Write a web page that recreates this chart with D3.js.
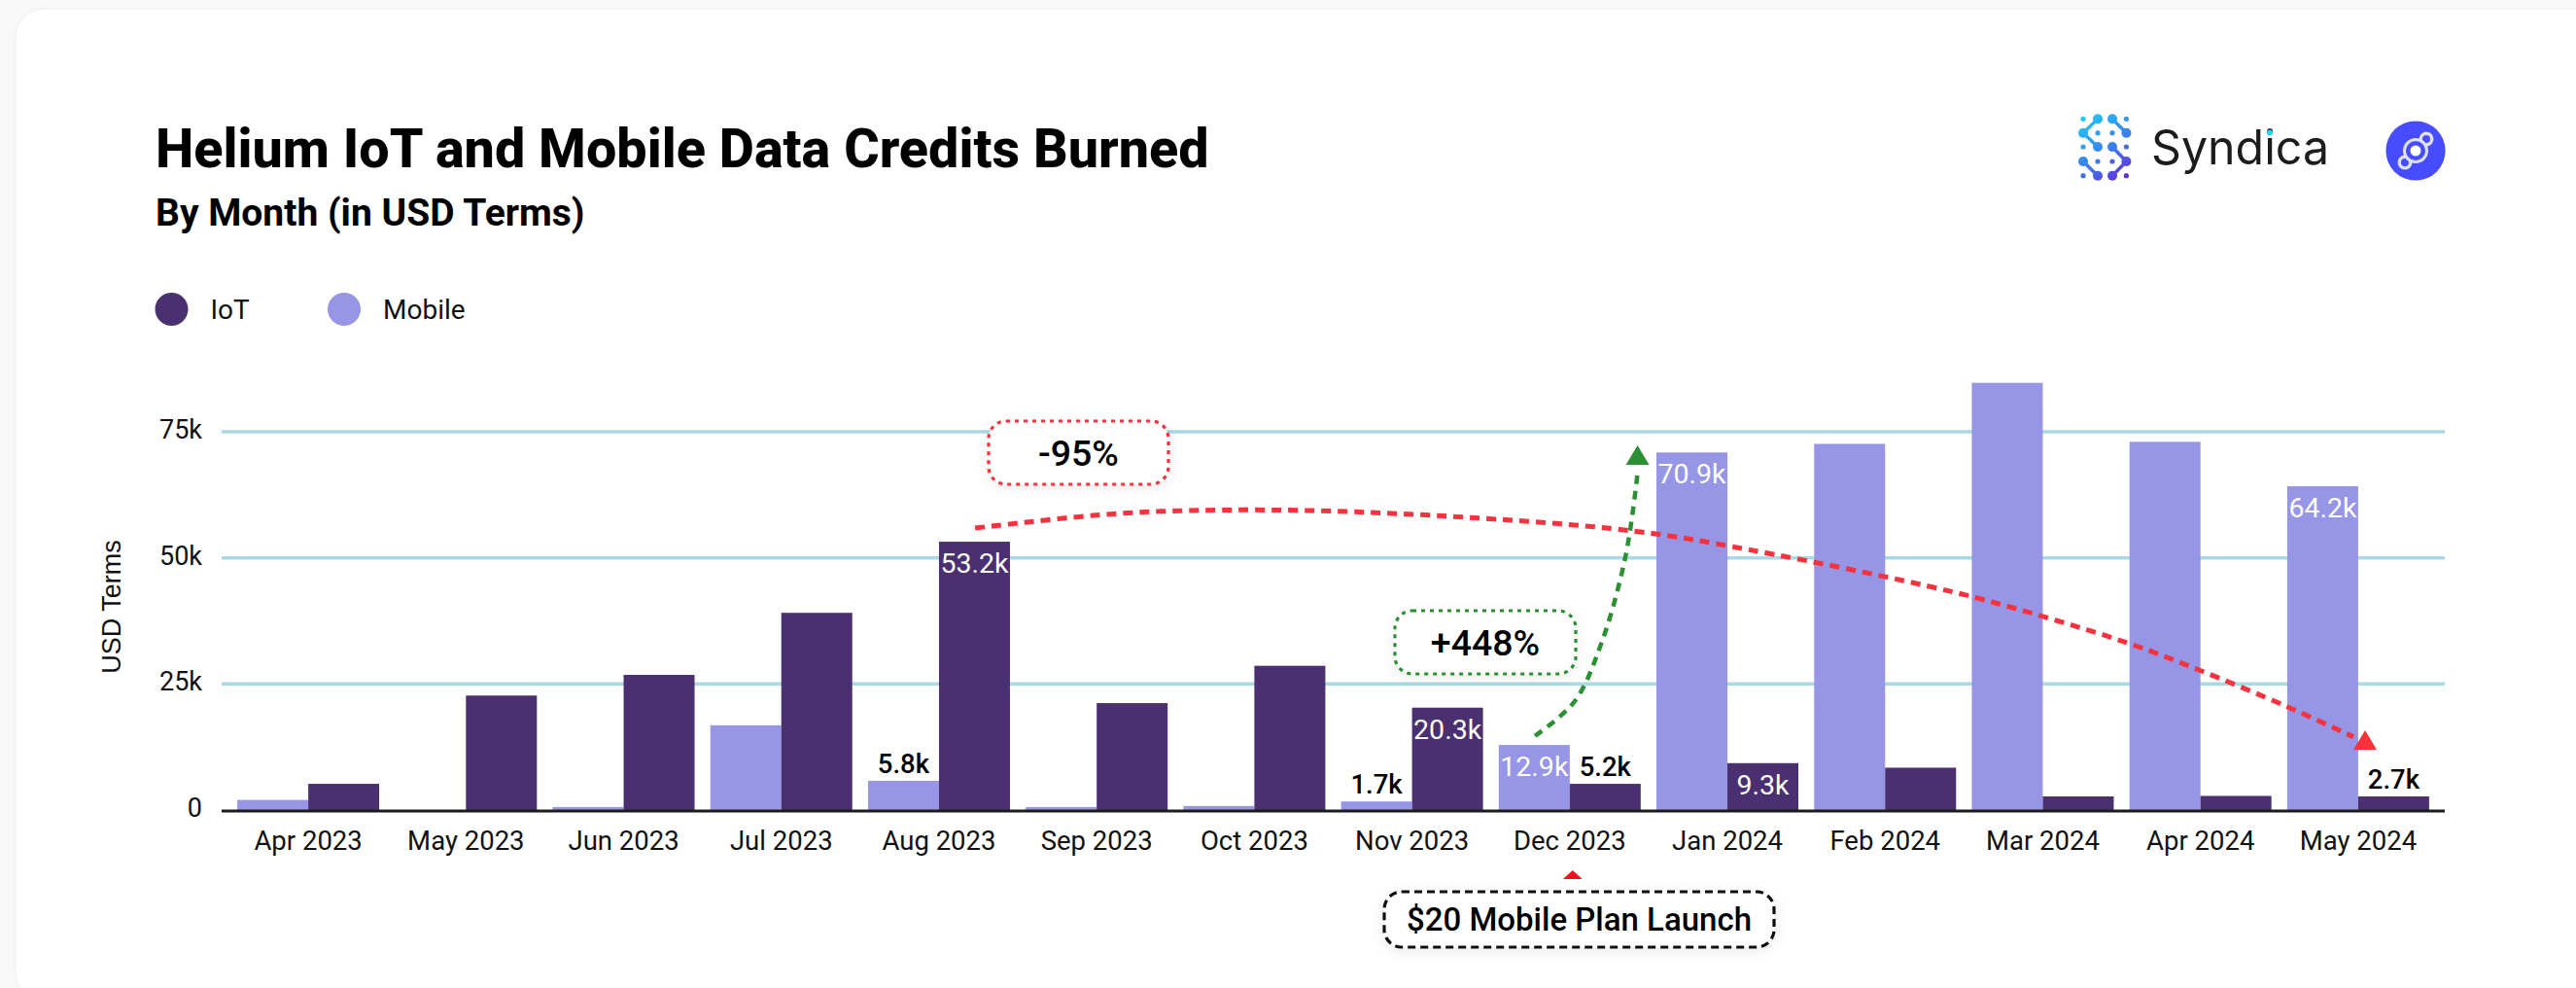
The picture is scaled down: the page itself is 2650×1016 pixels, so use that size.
<!DOCTYPE html>
<html><head><meta charset="utf-8">
<script src="https://cdn.jsdelivr.net/npm/d3@7"></script>
<style>
html,body{margin:0;padding:0;background:#f8f8f8;}
svg{display:block;font-family:Roboto,sans-serif;}
</style></head><body>
<svg id="c" width="2650" height="1016"></svg>
<script>
const months = ["Apr 2023","May 2023","Jun 2023","Jul 2023","Aug 2023","Sep 2023","Oct 2023","Nov 2023","Dec 2023","Jan 2024","Feb 2024","Mar 2024","Apr 2024","May 2024"];
const mobile = [2.0,0,0.6,16.8,5.8,0.6,0.8,1.7,12.9,70.9,72.6,84.7,73.0,64.2];
const iot    = [5.2,22.7,26.8,39.1,53.2,21.2,28.6,20.3,5.2,9.3,8.4,2.7,2.8,2.7];
const yTicks = [0,25,50,75];
const yTickLabels = ["0","25k","50k","75k"];
const seriesNames = ["IoT","Mobile"];
const barLabels = [
 ["Aug 2023","iot","53.2k","in"],["Aug 2023","mobile","5.8k","out"],
 ["Nov 2023","mobile","1.7k","out"],["Nov 2023","iot","20.3k","in"],
 ["Dec 2023","mobile","12.9k","in"],["Dec 2023","iot","5.2k","out"],
 ["Jan 2024","mobile","70.9k","in"],["Jan 2024","iot","9.3k","in"],
 ["May 2024","mobile","64.2k","in"],["May 2024","iot","2.7k","out"]];
// annotation paths in chart units: [month index, value in k]
const redCurve = [[4.229,55.9],[5.14,58.8],[6.073,59.5],[7.2,58.3],[8.41,55.3],[9.14,51.6],[10.41,43.4],[11.02,38.2],[11.55,33],[11.98,27.9],[12.55,20.5],[12.97,14.5]];
const greenCurve = [[7.78,14.7],[8.03,21.5],[8.2,33],[8.354,50.3],[8.43,66.7]];

const C = {iot:"#4a3070",mobile:"#9795e6",grid:"#a9d9e6",red:"#f5333f",green:"#2b8f33"};
const svg = d3.select("#c");
const defs = svg.append("defs");
const sh = defs.append("filter").attr("id","soft").attr("x","-20%").attr("y","-30%").attr("width","140%").attr("height","170%");
sh.append("feDropShadow").attr("dx",0).attr("dy",3).attr("stdDeviation",7).attr("flood-color","#000").attr("flood-opacity",0.08);
const lg = defs.append("linearGradient").attr("id","syn").attr("gradientUnits","userSpaceOnUse").attr("x1",2140).attr("y1",118).attr("x2",2192).attr("y2",186);
lg.append("stop").attr("offset",0).attr("stop-color","#1fd0f7");
lg.append("stop").attr("offset",0.55).attr("stop-color","#3a7cec");
lg.append("stop").attr("offset",1).attr("stop-color","#6d1fdc");

// card
svg.append("rect").attr("x",16).attr("y",9).attr("width",2700).attr("height",1021).attr("rx",30).attr("fill","#fff").attr("stroke","#efefef");

// header
svg.append("text").attr("x",160).attr("y",172).attr("font-size",55.7).attr("font-weight",800).attr("fill","#000").text("Helium IoT and Mobile Data Credits Burned");
svg.append("text").attr("x",160).attr("y",232).attr("font-size",39).attr("font-weight",700).attr("fill","#000").text("By Month (in USD Terms)");

// legend
const lx = [176.5,354];
seriesNames.forEach((n,i)=>{
  svg.append("circle").attr("cx",lx[i]).attr("cy",318).attr("r",17).attr("fill",C[n.toLowerCase()]);
  svg.append("text").attr("x",lx[i]+40).attr("y",327.5).attr("font-size",28).attr("fill","#111").text(n);
});

// scales
const x = d3.scaleBand().domain(months).range([236,2507]).paddingInner(0.1).paddingOuter(0.05);
const xs = d3.scaleBand().domain(["mobile","iot"]).range([0,x.bandwidth()]);
const y = d3.scaleLinear().domain([0,75]).range([833,444]);
const xi = i => x(months[0]) + x.bandwidth()/2 + i*x.step();
const left = 228, right = 2515;

// grid
svg.append("g").selectAll("line").data(yTicks.filter(d=>d>0)).join("line")
  .attr("x1",left).attr("x2",right).attr("y1",y).attr("y2",y)
  .attr("stroke",C.grid).attr("stroke-width",3.5);

// y axis labels
const yAxis = d3.axisLeft(y).tickValues(yTicks).tickFormat((d,i)=>yTickLabels[i]).tickSize(0).tickPadding(0);
const yg = svg.append("g").attr("transform","translate(208,-2)").call(yAxis);
yg.select(".domain").remove();
yg.selectAll("text").attr("font-family","Roboto").attr("font-size",27).attr("fill","#111");

svg.append("text").attr("transform","translate(124,624) rotate(-90)").attr("text-anchor","middle")
  .attr("font-family","'Liberation Sans',Arial,sans-serif").attr("font-size",27).attr("fill","#111").text("USD Terms");

// bars
const rows = months.map((m,i)=>({m,mobile:mobile[i],iot:iot[i]}));
const g = svg.append("g");
["mobile","iot"].forEach(s=>{
  g.selectAll("rect."+s).data(rows).join("rect").attr("class",s)
   .attr("x",d=>x(d.m)+xs(s)).attr("width",xs.bandwidth())
   .attr("y",d=>y(d[s])).attr("height",d=>y(0)-y(d[s])).attr("fill",C[s]);
});

// baseline
svg.append("line").attr("x1",left).attr("x2",right).attr("y1",y(0)+1).attr("y2",y(0)+1).attr("stroke","#1c1c1c").attr("stroke-width",3);

// x axis
const xAxis = d3.axisBottom(x).tickSize(0).tickPadding(0);
const xg = svg.append("g").attr("transform","translate(0,"+(y(0)+21)+")").call(xAxis);
xg.select(".domain").remove();
xg.selectAll("text").attr("font-family","Roboto").attr("font-size",27.5).attr("fill","#111");

// bar labels
barLabels.forEach(([m,s,t,pos])=>{
  const v = (s==="iot"?iot:mobile)[months.indexOf(m)];
  svg.append("text").attr("x",x(m)+xs(s)+xs.bandwidth()/2)
    .attr("y",y(v)+(pos==="in"?32:-8)).attr("text-anchor","middle")
    .attr("font-size",pos==="in"?28.5:27.5).attr("font-weight",pos==="in"?400:500)
    .attr("fill",pos==="in"?"#fff":"#000").text(t);
});

// annotations
const line = d3.line().x(d=>xi(d[0])).y(d=>y(d[1])).curve(d3.curveCatmullRom);
svg.append("path").attr("d",line(redCurve)).attr("fill","none").attr("stroke",C.red).attr("stroke-width",5).attr("stroke-dasharray","10 7");
svg.append("path").attr("d",line(greenCurve)).attr("fill","none").attr("stroke",C.green).attr("stroke-width",4.5).attr("stroke-dasharray","9 7");
function tri(cx,tip,base,hw,col){svg.append("path").attr("d",`M${cx},${tip}L${cx+hw},${base}L${cx-hw},${base}Z`).attr("fill",col);}
tri(xi(8.43),458,478,12,C.green);
tri(xi(12.97)+12,751,771,12,"#f8333c");
tri(x("Dec 2023")+x.bandwidth()/2+3,895,904,10,"#f01020");

function box(x0,y0,x1,y1,col,dash,txt,fs,weight){
  svg.append("rect").attr("x",x0).attr("y",y0).attr("width",x1-x0).attr("height",y1-y0).attr("rx",18)
    .attr("fill","#fff").attr("stroke",col).attr("stroke-width",3.2).attr("stroke-dasharray",dash).attr("filter","url(#soft)");
  svg.append("text").attr("x",(x0+x1)/2).attr("y",(y0+y1)/2+fs*0.35).attr("text-anchor","middle")
    .attr("font-size",fs).attr("font-weight",weight).attr("fill","#000").text(txt);
}
box(1017,433,1202,498,C.red,"4 5","-95%",37.5,500);
box(1435,628,1621,693,C.green,"4 5","+448%",37.5,500);
box(1424,917,1825,974,"#111","8 5","$20 Mobile Plan Launch",33,500);

// Syndica mark
const gx=[2143,2158,2173,2187.4], gy=[122.3,136.7,151,166,180.7];
const big=[[1,0],[2,0],[0,1],[3,1],[1,2],[2,2],[0,3],[3,3],[1,4],[2,4]];
const small=[[0,0],[3,0],[1,1],[2,1],[0,2],[3,2],[1,3],[2,3],[0,4],[3,4]];
const links=[[[1,0],[0,1]],[[0,1],[1,2]],[[2,0],[3,1]],[[2,2],[3,3]],[[0,3],[1,4]],[[3,3],[2,4]]];
const lg2=svg.append("g").attr("fill","url(#syn)");
links.forEach(([a,b])=>svg.append("line").attr("x1",gx[a[0]]).attr("y1",gy[a[1]]).attr("x2",gx[b[0]]).attr("y2",gy[b[1]]).attr("stroke","url(#syn)").attr("stroke-width",3.5));
big.forEach(p=>lg2.append("circle").attr("cx",gx[p[0]]).attr("cy",gy[p[1]]).attr("r",5));
small.forEach(p=>lg2.append("circle").attr("cx",gx[p[0]]).attr("cy",gy[p[1]]).attr("r",2.6));
svg.append("text").attr("x",2213).attr("y",169).attr("font-family","Inter,sans-serif").attr("font-weight",400).attr("font-size",49).attr("textLength",183).attr("lengthAdjust","spacingAndGlyphs").attr("fill","#1c1c1c").text("Syndica");
svg.append("circle").attr("cx",2335).attr("cy",136.5).attr("r",3).attr("fill","#28d0f5");

// Helium mark
const hx=2485,hy=155;
svg.append("circle").attr("cx",hx).attr("cy",hy).attr("r",30.6).attr("fill","#474dff");
[[11,-12,7.5,4],[-11,12,7.5,4]].forEach(([dx,dy,r1,r2])=>{
  svg.append("line").attr("x1",hx).attr("y1",hy).attr("x2",hx+dx).attr("y2",hy+dy).attr("stroke","#dfe0ff").attr("stroke-width",11);
  svg.append("circle").attr("cx",hx+dx).attr("cy",hy+dy).attr("r",r1).attr("fill","#dfe0ff");
  svg.append("circle").attr("cx",hx+dx).attr("cy",hy+dy).attr("r",r2).attr("fill","#474dff");
});
svg.append("circle").attr("cx",hx).attr("cy",hy).attr("r",13).attr("fill","#dfe0ff");
svg.append("circle").attr("cx",hx).attr("cy",hy).attr("r",10).attr("fill","#474dff");
svg.append("circle").attr("cx",hx).attr("cy",hy).attr("r",5.5).attr("fill","#fff");
</script></body></html>
